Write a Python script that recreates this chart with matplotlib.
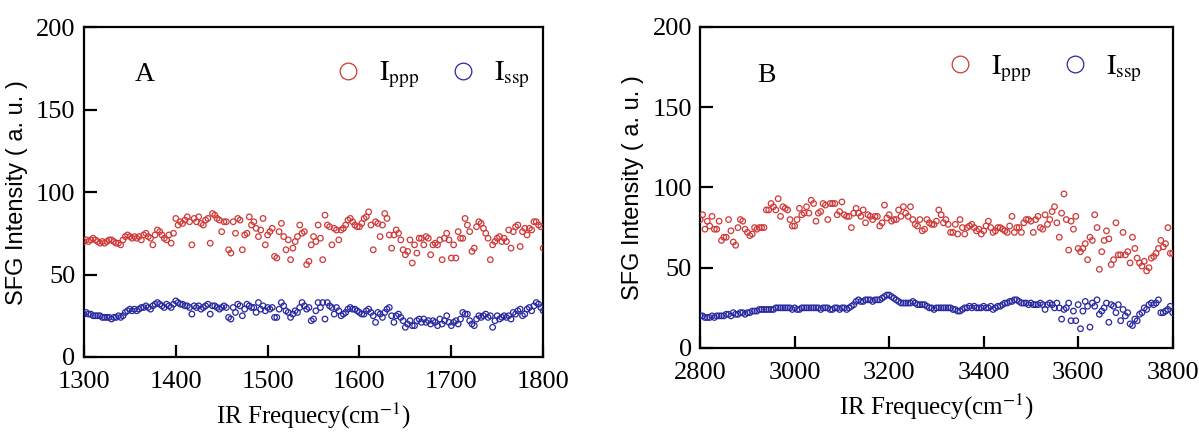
import numpy as np
import matplotlib
matplotlib.use("Agg")
import matplotlib.pyplot as plt
from matplotlib.lines import Line2D

plt.rcParams["font.family"] = ["Liberation Serif", "DejaVu Serif"]
plt.rcParams["mathtext.fontset"] = "stix"

# panel A: 1300-1800 cm-1, step 2.5
freq_a = np.arange(1300, 1800.1, 2.5)
ppp_a = [
    70, 71, 70, 71, 72, 71, 70, 69, 70, 69, 70, 71, 71, 70, 69, 69, 68,
    71, 73, 74, 73, 72, 73, 72, 73, 71, 74, 75, 73, 72, 68, 74, 77, 76, 74, 72, 71, 74, 69, 75,
    84, 80, 82, 81, 83, 85, 82, 68, 84, 82, 85, 81, 80, 83, 84, 69, 87, 86, 84, 83,
    76, 82, 82, 65, 63, 82, 75, 84, 83, 65, 74, 75, 85, 80, 82, 78, 73, 77, 84, 68,
    74, 76, 78, 61, 60, 76, 81, 73, 65, 71, 59, 66, 70, 73, 80, 75, 76, 56, 58, 68,
    73, 70, 80, 72, 59, 86, 80, 79, 68, 78, 77, 71, 77, 78, 80, 83, 84, 82, 80, 79,
    79, 81, 84, 85, 88, 80, 65, 82, 81, 73, 80, 87, 84, 74, 66, 74, 77, 75, 71, 65,
    62, 64, 71, 57, 68, 63, 72, 72, 68, 73, 72, 62, 68, 69, 68, 71, 59, 72, 75, 71,
    60, 68, 60, 76, 72, 72, 84, 80, 76, 64, 66, 79, 82, 81, 78, 75, 72, 59, 68, 70,
    72, 73, 70, 72, 70, 77, 66, 76, 79, 80, 67, 76, 78, 74, 78, 77, 82, 82, 80, 79,
    66,
]
ssp_a = [
    26, 27, 26, 26, 25, 25, 25, 25, 24, 24, 24, 24, 23, 24, 24, 25, 24,
    25, 27, 28, 29, 28, 29, 28, 29, 30, 30, 31, 30, 29, 31, 32, 33, 32, 31, 30, 32, 31, 30, 32,
    34, 33, 32, 32, 31, 31, 30, 26, 31, 30, 31, 29, 30, 31, 32, 26, 31, 31, 30, 29,
    30, 31, 30, 24, 23, 30, 27, 32, 31, 25, 29, 32, 31, 30, 30, 27, 33, 29, 31, 28,
    30, 29, 30, 24, 24, 29, 33, 31, 28, 27, 24, 26, 28, 27, 30, 33, 31, 29, 30, 22,
    23, 28, 33, 30, 33, 23, 33, 31, 30, 26, 30, 28, 25, 26, 27, 29, 30, 29, 29, 28,
    27, 26, 26, 28, 29, 27, 25, 21, 27, 26, 24, 27, 29, 30, 25, 21, 25, 26, 24, 22,
    18, 20, 22, 19, 19, 22, 23, 21, 23, 21, 22, 20, 22, 21, 19, 23, 20, 22, 25, 21,
    19, 21, 22, 20, 23, 27, 26, 26, 22, 20, 19, 23, 25, 24, 25, 26, 24, 25, 18, 22,
    25, 23, 24, 25, 24, 25, 23, 27, 26, 28, 29, 25, 26, 29, 30, 28, 31, 33, 32, 30,
    28,
]

# panel B: 2800-3800 cm-1, step 5
freq_b = np.arange(2800, 3800.1, 5)
ppp_b = [
    80, 83, 74, 79, 76, 82, 74, 74, 79, 67, 69, 69, 80, 73, 66, 64, 75, 80, 79, 74,
    72, 70, 71, 75, 74, 75, 75, 75, 86, 86, 90, 88, 86, 93, 82, 88, 87, 86, 80, 76,
    76, 80, 87, 83, 84, 88, 84, 92, 90, 79, 84, 85, 90, 89, 80, 90, 90, 90, 83, 85,
    91, 83, 82, 82, 75, 84, 87, 84, 82, 86, 78, 83, 82, 80, 82, 82, 76, 78, 89, 81,
    83, 79, 80, 80, 86, 82, 88, 84, 82, 88, 80, 77, 76, 80, 73, 74, 80, 78, 77, 77,
    79, 86, 83, 78, 80, 77, 72, 72, 77, 71, 80, 75, 71, 75, 76, 77, 75, 73, 74, 71,
    73, 76, 79, 75, 72, 73, 75, 75, 74, 73, 72, 76, 82, 72, 75, 75, 72, 78, 80, 80,
    79, 72, 80, 82, 75, 74, 83, 77, 80, 85, 88, 78, 69, 84, 96, 80, 61, 79, 74, 82,
    62, 60, 62, 65, 55, 69, 67, 83, 75, 49, 60, 67, 73, 68, 52, 55, 78, 58, 58, 72,
    58, 60, 53, 69, 62, 56, 53, 51, 54, 48, 50, 56, 57, 59, 62, 67, 63, 65, 75, 59,
    59,
]
ssp_b = [
    20, 20, 19, 19, 19, 20, 19, 20, 20, 20, 20, 21, 21, 20, 22, 21, 21, 22, 22, 21,
    22, 22, 23, 23, 23, 24, 24, 24, 24, 24, 24, 24, 25, 25, 25, 25, 25, 25, 25, 24,
    25, 24, 24, 25, 25, 25, 25, 25, 25, 25, 25, 24, 25, 25, 25, 24, 24, 25, 25, 24,
    25, 25, 24, 25, 26, 27, 29, 30, 29, 29, 30, 30, 30, 29, 30, 30, 30, 31, 32, 33,
    33, 32, 31, 30, 29, 28, 28, 28, 28, 28, 29, 28, 27, 27, 27, 27, 26, 25, 25, 24,
    25, 25, 25, 25, 25, 25, 25, 24, 24, 23, 23, 24, 25, 25, 26, 25, 26, 25, 25, 25,
    26, 25, 25, 26, 24, 25, 26, 26, 27, 28, 28, 29, 29, 30, 30, 29, 28, 28, 28, 27,
    28, 27, 27, 27, 28, 27, 24, 27, 28, 27, 25, 28, 25, 18, 24, 25, 28, 17, 23, 17,
    27, 12, 23, 29, 26, 13, 28, 26, 30, 21, 23, 25, 28, 16, 27, 26, 22, 27, 17, 24,
    20, 22, 15, 14, 18, 17, 21, 22, 25, 24, 27, 28, 27, 28, 30, 22, 22, 23, 24, 26,
    22,
]

ticks_a = [1300, 1400, 1500, 1600, 1700, 1800]
ticks_b = [2800, 3000, 3200, 3400, 3600, 3800]
yticks = [0, 50, 100, 150, 200]

RED = "#d03838"
BLUE = "#2828a0"


def style_axes(ax, xlim, xticks):
    ax.set_xlim(*xlim)
    ax.set_ylim(0, 200)
    ax.set_xticks(xticks)
    ax.set_yticks(yticks)
    ax.tick_params(direction="in", length=9, width=1.6, labelsize=19,
                   top=False, right=False)
    ax.tick_params(axis="x", pad=10)
    ax.tick_params(axis="y", pad=6)
    for sp in ax.spines.values():
        sp.set_linewidth(1.6)
    ax.set_ylabel("SFG Intensity ( a. u. )", family=["Liberation Sans", "DejaVu Sans"],
                  fontsize=17, labelpad=6)
    ax.set_xlabel(r"IR Frequecy(cm$^{-1}$)", fontsize=18, labelpad=6)


def draw_panel(ax, freq, ppp, ssp, xlim, xticks, tag, tag_pos, leg_pos):
    ax.scatter(freq, ppp, s=16, facecolors="none", edgecolors=RED, linewidths=0.9, zorder=3)
    ax.scatter(freq, ssp, s=16, facecolors="none", edgecolors=BLUE, linewidths=0.9, zorder=3)
    style_axes(ax, xlim, xticks)
    ax.text(tag_pos[0], tag_pos[1], tag, transform=ax.transAxes, fontsize=20,
            ha="left", va="center")
    handles = [
        Line2D([], [], ls="none", marker="o", ms=12, mfc="none", mec=RED, mew=0.9),
        Line2D([], [], ls="none", marker="o", ms=12, mfc="none", mec=BLUE, mew=0.9),
    ]
    ax.legend(handles, [r"$\mathrm{I_{ppp}}$", r"$\mathrm{I_{ssp}}$"], ncol=2,
              frameon=False, fontsize=20, loc="center", bbox_to_anchor=leg_pos,
              handletextpad=0.5, columnspacing=1.0, handlelength=1.2)


fig = plt.figure(figsize=(11.99, 4.38), dpi=100)
ax_a = fig.add_axes([0.070, 0.185, 0.383, 0.753])
ax_b = fig.add_axes([0.584, 0.2055, 0.394, 0.733])

draw_panel(ax_a, freq_a, ppp_a, ssp_a, (1300, 1800), ticks_a, "A", (0.11, 0.855), (0.755, 0.855))
draw_panel(ax_b, freq_b, ppp_b, ssp_b, (2800, 3800), ticks_b, "B", (0.12, 0.85), (0.725, 0.87))

fig.savefig("out.png", dpi=100)
